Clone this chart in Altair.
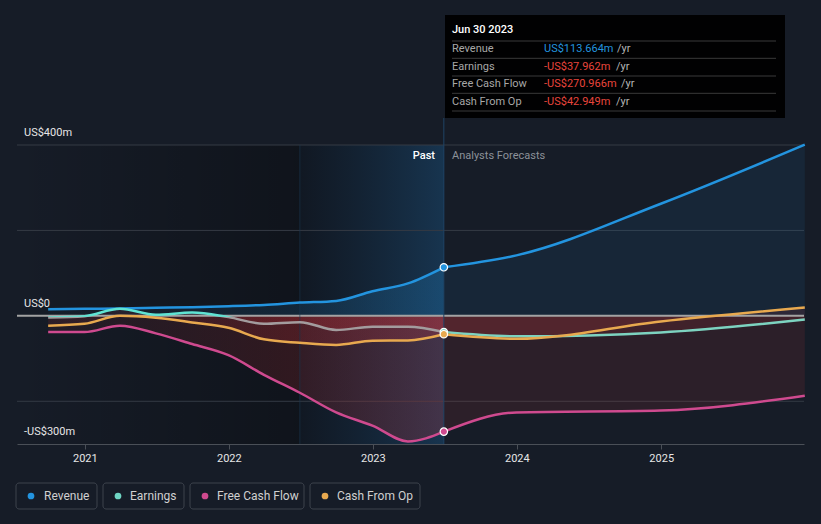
import altair as alt
import pandas as pd

# ---------------- data ----------------
past_dates = ["2020-09-30", "2020-12-31", "2021-03-31", "2021-06-30", "2021-09-30", "2021-12-31",
              "2022-03-31", "2022-06-30", "2022-09-30", "2022-12-31", "2023-03-31", "2023-06-30"]
revenue_past = [15.6, 16.4, 17.2, 18.7, 20.3, 22.6, 25.7, 31.0, 35.0, 57.6, 76.0, 113.664]
earnings_past = [-3.8, -0.7, 16.4, 2.5, 7.9, -3.0, -18.6, -14.7, -33.0, -25.6, -25.6, -37.962]
fcf_past = [-38.0, -38.0, -23.0, -41.0, -66.0, -92.0, -138.0, -180.0, -226.0, -257.0, -294.0, -270.966]
cfo_past = [-23.0, -18.6, 0.0, -4.6, -15.5, -28.0, -55.0, -63.0, -68.0, -58.0, -57.5, -42.949]

fc_dates = ["2023-06-30", "2023-12-31", "2024-12-31", "2025-12-31"]
revenue_fc = [113.664, 141.6, 262.5, 400.7]
earnings_fc = [-37.962, -48.0, -38.8, -8.5]
fcf_fc = [-270.966, -226.0, -221.6, -187.0]
cfo_fc = [-42.949, -53.6, -13.0, 19.6]

series_names = ["Revenue", "Earnings", "Free Cash Flow", "Cash From Op"]
series_colors = ["#2394df", "#6fd6c4", "#cf4a8f", "#e8a94f"]

ytick_values = [400, 0, -300]
ytick_labels = ["US$400m", "US$0", "-US$300m"]
grid_values = [400, 200, -200]
year_ticks = [2021, 2022, 2023, 2024, 2025]

tip_title = "Jun 30 2023"
tip_labels = ["Revenue", "Earnings", "Free Cash Flow", "Cash From Op"]
tip_values = ["US$113.664m", "-US$37.962m", "-US$270.966m", "-US$42.949m"]

# ---------------- styling ----------------
W, H = 787, 299
BG = "#161c27"
FONT = "Roboto"

past = pd.DataFrame({"date": past_dates, "Revenue": revenue_past, "Earnings": earnings_past,
                     "FCF": fcf_past, "CFO": cfo_past})
fc = pd.DataFrame({"date": fc_dates, "Revenue": revenue_fc, "Earnings": earnings_fc,
                   "FCF": fcf_fc, "CFO": cfo_fc})
last = past.tail(1)


def dt(y, m, d):
    return alt.DateTime(year=y, month=m, date=d, utc=True)


xscale = alt.Scale(type="utc", domain=[dt(2020, 7, 13), dt(2025, 12, 29)])
yscale = alt.Scale(domain=[-300, 400], nice=False, zero=False)
xaxis = alt.Axis(values=[dt(y, 1, 1) for y in year_ticks], format="%Y", grid=False,
                 domainColor="#4a4f57", tickColor="#4a4f57", tickSize=5, labelColor="#e6e6e6",
                 labelFontSize=11, labelFont=FONT, labelPadding=3, title=None, labelFlush=False)
X = alt.X("date:T", scale=xscale, axis=xaxis)


def Y(f):
    return alt.Y(f + ":Q", scale=yscale, axis=None)


def hgrad(c0, c1):
    return alt.LinearGradient(gradient="linear", x1=0, x2=1, y1=0, y2=0,
                              stops=[alt.GradientStop(color=c0, offset=0),
                                     alt.GradientStop(color=c1, offset=1)])


layers = []

# background regions
regions = pd.DataFrame({"s": ["2020-07-13"], "e": ["2022-06-30"]})
layers.append(alt.Chart(regions).mark_rect(fill=hgrad("rgba(0,0,0,0)", "rgba(0,0,0,0.3)")).encode(
    x=alt.X("s:T", scale=xscale, axis=xaxis), x2="e:T", y=alt.value(0), y2=alt.value(H)))
hl = pd.DataFrame({"s": ["2022-06-30"], "e": ["2023-06-30"]})
layers.append(alt.Chart(hl).mark_rect(fill=hgrad("rgba(5,15,25,0.3)", "rgba(25,92,145,0.38)")).encode(
    x=alt.X("s:T", scale=xscale, axis=xaxis), x2="e:T", y=alt.value(0), y2=alt.value(H)))

# grid lines
gdf = pd.DataFrame({"v": grid_values})
layers.append(alt.Chart(gdf).mark_rule(color="#343a44", strokeWidth=1).encode(
    y=alt.Y("v:Q", scale=yscale, axis=None), x=alt.value(0), x2=alt.value(W)))

# areas
red_past = hgrad("rgba(220,50,55,0.06)", "rgba(220,50,55,0.22)")
blue_past = hgrad("rgba(35,148,223,0.02)", "rgba(35,148,223,0.22)")
layers.append(alt.Chart(past).mark_area(interpolate="monotone", fill=blue_past).encode(
    x=X, y=Y("Revenue"), y2=alt.datum(0)))
for f in ["Earnings", "CFO", "FCF"]:
    layers.append(alt.Chart(past).mark_area(interpolate="monotone", fill=red_past).encode(
        x=X, y=Y(f), y2=alt.datum(0)))
layers.append(alt.Chart(fc).mark_area(interpolate="monotone", fill="#2394df", fillOpacity=0.09).encode(
    x=X, y=Y("Revenue"), y2=alt.datum(0)))
for f in ["Earnings", "CFO", "FCF"]:
    layers.append(alt.Chart(fc).mark_area(interpolate="monotone", fill="#e03c3c", fillOpacity=0.11).encode(
        x=X, y=Y(f), y2=alt.datum(0)))

# zero line
zdf = pd.DataFrame({"v": [0]})
layers.append(alt.Chart(zdf).mark_rule(color="#a3a3a3", strokeWidth=2).encode(
    y=alt.Y("v:Q", scale=yscale, axis=None), x=alt.value(0), x2=alt.value(W)))

# vertical lines
vdf1 = pd.DataFrame({"d": ["2022-06-30"]})
vdf2 = pd.DataFrame({"d": ["2023-06-30"]})
layers.append(alt.Chart(vdf1).mark_rule(color="#1a3550", strokeWidth=1, opacity=0.6).encode(
    x=alt.X("d:T", scale=xscale, axis=xaxis), y=alt.value(0), y2=alt.value(H)))
layers.append(alt.Chart(vdf2).mark_rule(color="#1f4466", strokeWidth=1).encode(
    x=alt.X("d:T", scale=xscale, axis=xaxis), y=alt.value(-27), y2=alt.value(H)))

# lines
emax, emin = max(earnings_past), min(earnings_past)
zoff = emax / (emax - emin)
earn_grad = alt.LinearGradient(gradient="linear", x1=0, x2=0, y1=0, y2=1, stops=[
    alt.GradientStop(color="#5fe3d3", offset=0),
    alt.GradientStop(color="#5fe3d3", offset=min(zoff + 0.02, 1)),
    alt.GradientStop(color="#a39c9e", offset=min(zoff + 0.07, 1)),
    alt.GradientStop(color="#a39c9e", offset=1)])
lw = 2.5
layers.append(alt.Chart(past).mark_line(interpolate="monotone", color=series_colors[0], strokeWidth=lw).encode(x=X, y=Y("Revenue")))
layers.append(alt.Chart(past).mark_line(interpolate="monotone", stroke=earn_grad, strokeWidth=lw).encode(x=X, y=Y("Earnings")))
layers.append(alt.Chart(past).mark_line(interpolate="monotone", color=series_colors[2], strokeWidth=lw).encode(x=X, y=Y("FCF")))
layers.append(alt.Chart(past).mark_line(interpolate="monotone", color=series_colors[3], strokeWidth=lw).encode(x=X, y=Y("CFO")))
layers.append(alt.Chart(fc).mark_line(interpolate="monotone", color=series_colors[0], strokeWidth=lw).encode(x=X, y=Y("Revenue")))
layers.append(alt.Chart(fc).mark_line(interpolate="monotone", color="#7dd3c0", strokeWidth=lw).encode(x=X, y=Y("Earnings")))
layers.append(alt.Chart(fc).mark_line(interpolate="monotone", color=series_colors[2], strokeWidth=lw).encode(x=X, y=Y("FCF")))
layers.append(alt.Chart(fc).mark_line(interpolate="monotone", color=series_colors[3], strokeWidth=lw).encode(x=X, y=Y("CFO")))

# points at Jun 30 2023
for f, c in [("Revenue", series_colors[0]), ("Earnings", "#7dd3c0"), ("FCF", series_colors[2]), ("CFO", series_colors[3])]:
    layers.append(alt.Chart(last).mark_point(filled=True, fill=c, stroke="white", strokeWidth=1.2,
                                             size=55, opacity=1).encode(x=X, y=Y(f)))


def txt(s, x, y, color, size=11, weight="normal", align="left"):
    return alt.Chart(alt.Data(values=[{}])).mark_text(
        text=s, color=color, fontSize=size, fontWeight=weight, align=align, baseline="middle",
        font=FONT).encode(x=alt.value(x), y=alt.value(y))


# y labels
ylab = pd.DataFrame({"v": ytick_values, "t": ytick_labels})
layers.append(alt.Chart(ylab).mark_text(align="left", baseline="middle", dy=-12, color="#e6e6e6",
                                        fontSize=11, font=FONT).encode(
    x=alt.value(7), y=alt.Y("v:Q", scale=yscale, axis=None), text="t:N"))

# past / forecast
layers.append(txt("Past", 418, 11, "#ffffff", weight=500, align="right"))
layers.append(txt("Analysts Forecasts", 435, 11, "#8c9199"))

# tooltip
layers.append(alt.Chart(alt.Data(values=[{}])).mark_rect(fill="#000000", opacity=0.95).encode(
    x=alt.value(428), x2=alt.value(768), y=alt.value(-130), y2=alt.value(-27)))
layers.append(txt(tip_title, 435, -115, "#ffffff", weight=500))
for yy in [-104, -86.7, -69, -51.7, -34]:
    layers.append(alt.Chart(alt.Data(values=[{}])).mark_rule(color="#3a3a3a", strokeWidth=1).encode(
        x=alt.value(435), x2=alt.value(759), y=alt.value(yy)))
row_y = [-96, -78.5, -61, -43.5]
yr_x = [600, 599, 604, 599]
for i in range(4):
    layers.append(txt(tip_labels[i], 435, row_y[i], "#a7a7a7"))
    vc = "#2394df" if not tip_values[i].startswith("-") else "#e8453c"
    layers.append(txt(tip_values[i], 527, row_y[i], vc))
    layers.append(txt("/yr", yr_x[i], row_y[i], "#b5b5b5"))

# legend
box_x = [(-1, 80), (86, 167), (173, 287), (293, 403)]
dot_x = [14, 101, 188, 308]
lab_x = [27, 113, 200, 320]
for i in range(4):
    layers.append(alt.Chart(alt.Data(values=[{}])).mark_rect(
        fill=BG, stroke="#3c424c", strokeWidth=1, cornerRadius=3).encode(
        x=alt.value(box_x[i][0]), x2=alt.value(box_x[i][1]), y=alt.value(338), y2=alt.value(364)))
    layers.append(alt.Chart(alt.Data(values=[{}])).mark_point(
        filled=True, fill=series_colors[i], size=45, opacity=1, shape="circle").encode(
        x=alt.value(dot_x[i]), y=alt.value(351)))
    layers.append(txt(series_names[i], lab_x[i], 351, "#d0d0d0", size=12))

chart = alt.layer(*layers).properties(
    width=W, height=H, background=BG,
    padding={"left": 17, "top": 145, "right": 17, "bottom": 80},
    autosize=alt.AutoSizeParams(type="none"),
).configure_view(stroke=None)

chart.save("out.html", embed_options={"renderer": "svg", "actions": False})
